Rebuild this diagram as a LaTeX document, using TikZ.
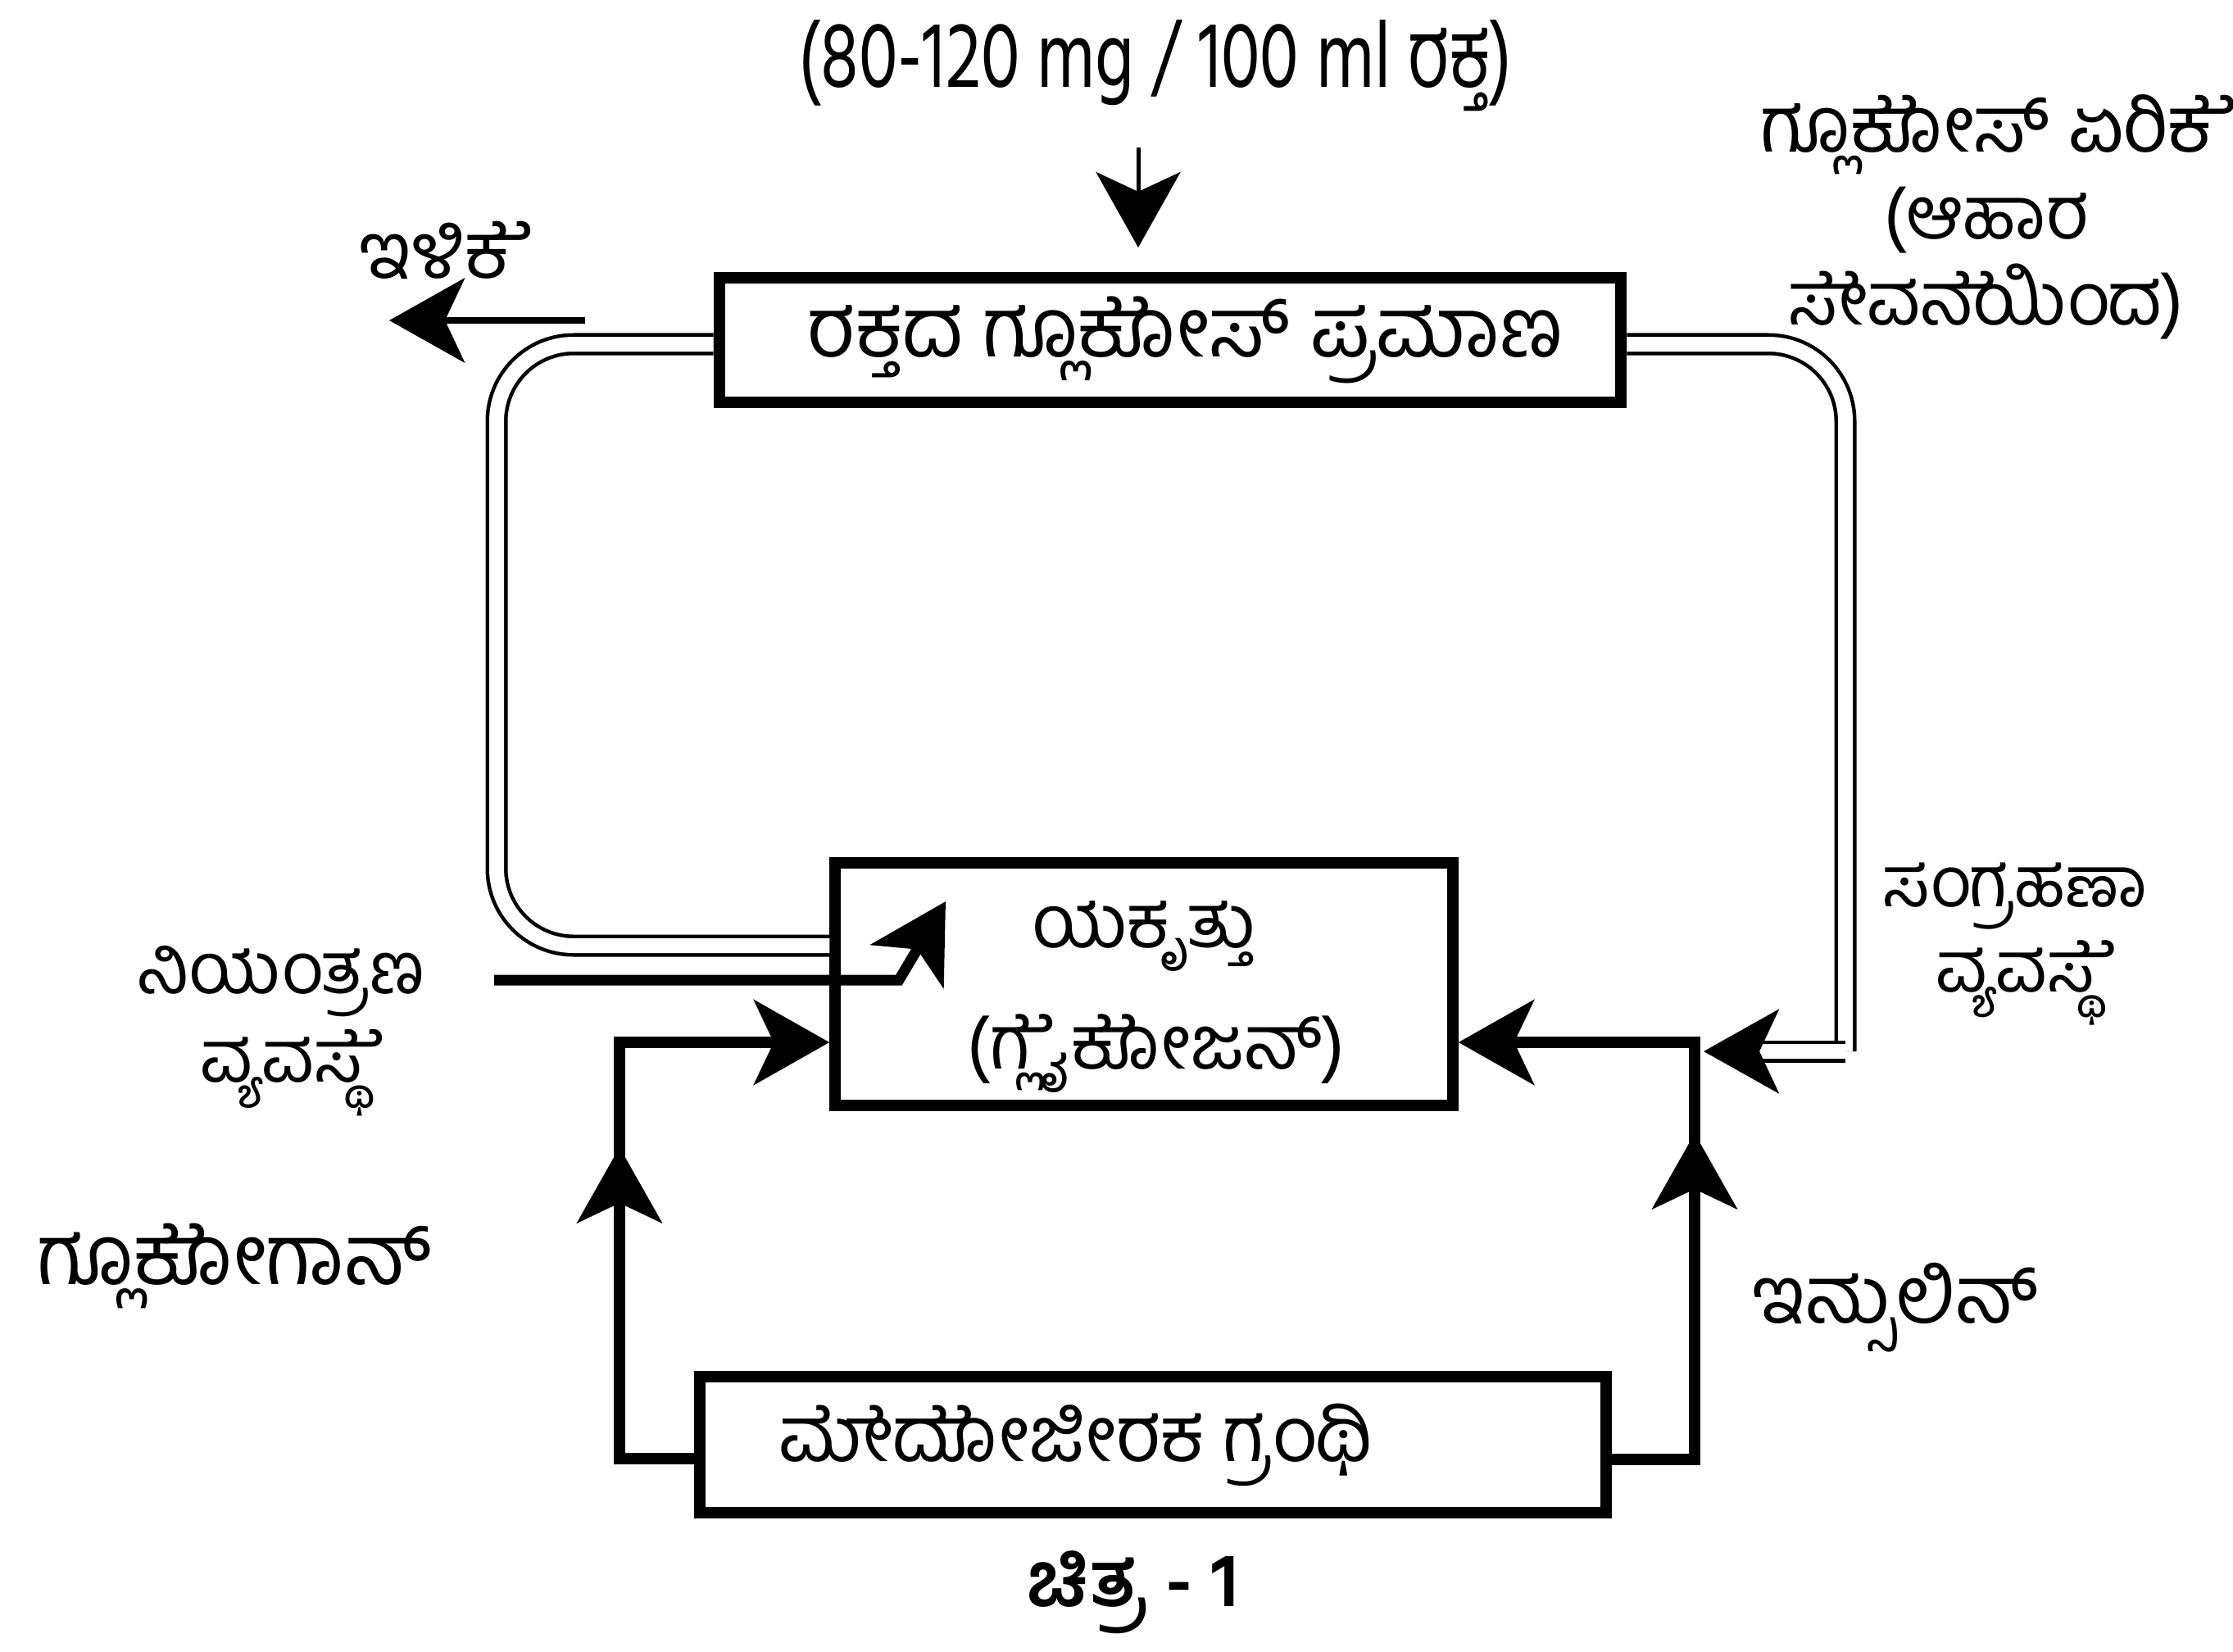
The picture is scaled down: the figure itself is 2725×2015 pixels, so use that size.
\documentclass[tikz,border=0pt]{standalone}
\usepackage{graphicx}
\usepackage{fontspec}
\setmainfont{Hind Mysuru}[Script=Kannada]
% the e-sign hook, set as an unshaped glyph over the base consonant
\newcommand\ehook{\XeTeXglyph\XeTeXcharglyph"0CC6\relax}
\newcommand\ek[1]{\rlap{\phantom{#1}\ehook}}
\usetikzlibrary{arrows.meta}
\tikzset{
  bigtip/.tip={Stealth[length=0.92cm,width=1.03cm,inset=0.24cm]},
  box/.style={draw, line width=0.14cm, inner sep=0pt},
  conn/.style={line width=0.14cm, -{bigtip}},
  thinarr/.style={-{bigtip}},
  dbl/.style={line width=0.045cm, double, double distance=0.18cm},
  lbl/.style={inner sep=0pt, align=center},
}
\begin{document}
\begin{tikzpicture}[x=0.01cm,y=-0.01cm]
\fill[white] (0,0) rectangle (2725,2015);
\useasboundingbox (0,0) rectangle (2725,2015);

% boxes
\node[box, minimum width=11.00cm, minimum height=1.52cm, font=\fontsize{28.7}{34}\selectfont] (top) at (1428,415) {\hspace*{0.38cm}ರಕ್ತದ ಗ್ಲೂ\ek{ಕ}ಕೋಸ್ ಪ್ರಮಾಣ};
\node[box, minimum width=7.53cm, minimum height=2.92cm, font=\fontsize{26}{42}\selectfont] (liver) at (1396,1201) {\raisebox{-0.23cm}{\begin{tabular}{@{}c@{}}ಯಕೃತ್ತು\\\hspace*{0.3cm}(\ek{ಗ}ಗ್ಲೈ\ek{ಕ}ಕೋಜನ್)\end{tabular}}};
\node[box, minimum width=11.05cm, minimum height=1.66cm, font=\fontsize{26.7}{32}\selectfont] (panc) at (1407,1763) {\ek{ಮ}ಮೇ\ek{ದ}ದೋಜೀರಕ ಗ್ರಂಥಿ\hspace*{1.9cm}};

% labels
\node[lbl, font=\fontsize{33}{38}\selectfont] (t80) at (1410,80) {\scalebox{0.75}[1]{(80-120 mg / 100 ml ರಕ್ತ)}};
\node[lbl, font=\fontsize{25.5}{30}\selectfont] (upl) at (2424,265) {{\fontsize{27}{30}\selectfont ಗ್ಲೂ\ek{ಕ}ಕೋಸ್ ಏರಿ\ek{ಕ}ಕೆ}\\(ಆಹಾರ\\\ek{ಸ}ಸೇವ\ek{ನ}ನೆಯಿಂದ)};
\node[lbl, font=\fontsize{24.5}{29.7}\selectfont] (sam) at (2459,1152) {ಸಂಗ್ರಹಣಾ\\ವ್ಯವ\ek{ಸ}ಸ್ಥೆ};
\node[lbl, font=\fontsize{25}{30.5}\selectfont] (niy) at (343,1258) {ನಿಯಂತ್ರಣ\\ವ್ಯವ\ek{ಸ}ಸ್ಥೆ};
\node[lbl, font=\fontsize{29}{34}\selectfont] (glc) at (286,1545) {ಗ್ಲೂ\ek{ಕ}ಕೋಗಾನ್};
\node[lbl, font=\fontsize{27.5}{33}\selectfont] (ins) at (2313,1596) {ಇನ್ಸುಲಿನ್};
\node[lbl, font=\fontsize{27}{32}\selectfont] (ilk) at (530,305) {ಇಳಿ\ek{ಕ}ಕೆ};
\node[lbl, font=\fontsize{26.5}{32}\bfseries] (cap) at (1383,1943) {ಚಿತ್ರ - 1};

% coordinates
\coordinate (d0) at (1389,180);
\coordinate (d1) at (1389,302);
\coordinate (il0) at (714,391);
\coordinate (il1) at (475,391);
\coordinate (gv) at (756,1272);
\coordinate (iv) at (2068,1272);
\coordinate (gm0) at (756,1520);
\coordinate (gm1) at (756,1400);
\coordinate (im0) at (2068,1500);
\coordinate (im1) at (2068,1383);
\coordinate (n0) at (603,1196);
\coordinate (n1) at (1097,1196);
\coordinate (n2) at (1154,1100);
\coordinate (rc) at (2252,1283);
\coordinate (dr) at (2136,1283);
\coordinate (dt) at (2079,1283);

% free arrows
\draw[thinarr, line width=0.05cm] (d0) -- (d1);
\draw[thinarr, line width=0.08cm] (il0) -- (il1);

% double loops
\draw[dbl, rounded corners=0.94cm] (top.west |- 0,420) -- (606,420) -- (606,1154) -- (liver.west |- 0,1154);
\draw[dbl, rounded corners=0.94cm] (top.east |- 0,420) -- (2252,420) -- (rc);
\draw[dbl] (rc) -- (2130,1283);
\draw[thinarr, line width=0.045cm] (dr) -- (dt);

% control line into liver
\draw[line width=0.13cm, -{bigtip}] (n0) -- (n1) -- (n2);

% glucagon
\draw[conn] ([yshift=-0.17cm]panc.west) -| (gv) -- (gv -| liver.west);
\draw[conn] (gm0) -- (gm1);
% insulin
\draw[conn] ([yshift=-0.18cm]panc.east) -| (iv) -- (iv -| liver.east);
\draw[conn] (im0) -- (im1);
\end{tikzpicture}
\end{document}
